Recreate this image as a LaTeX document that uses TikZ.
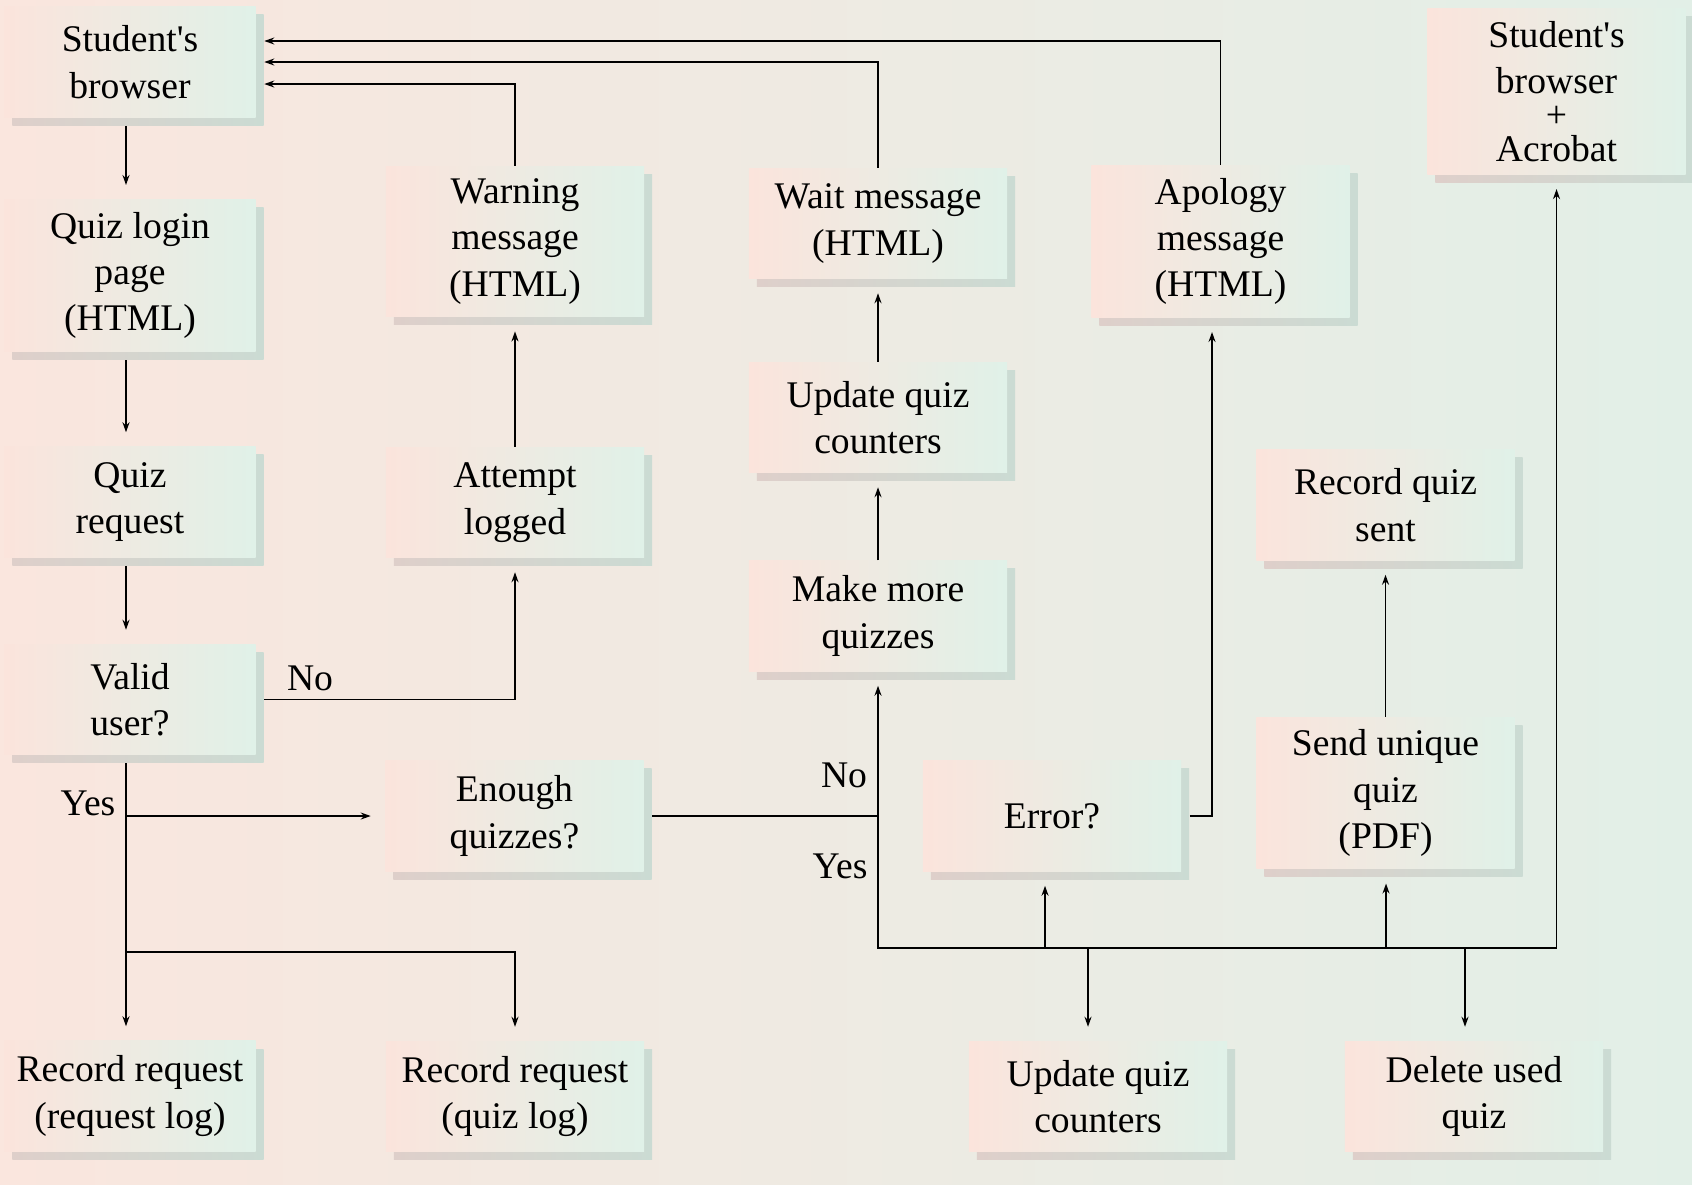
\documentclass[tikz,border=0pt]{standalone}
\usepackage{fontspec}
\setmainfont{Liberation Serif}
\usetikzlibrary{arrows.meta,shadows}
\definecolor{bgleft}{RGB}{250,230,222}
\definecolor{bgright}{RGB}{226,239,231}
\definecolor{boxleft}{RGB}{251,228,220}
\definecolor{boxright}{RGB}{224,241,232}
\definecolor{shadeleft}{RGB}{222,207,202}
\definecolor{shaderight}{RGB}{203,219,211}
\tikzstyle{box} = [minimum height=1.1cm, minimum width=2.58cm, text centered, align=center, inner xsep=0pt, inner ysep=3.5pt, left color=boxleft, right color=boxright, general shadow={shadow xshift=0.08cm, shadow yshift=-0.08cm, left color=shadeleft, right color=shaderight}, font=\fontsize{10.7}{13.2}\selectfont]
\tikzstyle{colbox} = [box, minimum width=2.51cm]
\tikzstyle{arr} = [-{Stealth[length=0.1cm, width=0.07cm]}, shorten >=0.14cm, line width=0.45pt]
\tikzstyle{lbl} = [font=\fontsize{10.7}{13.2}\selectfont]

\begin{document}
\begin{tikzpicture}[x=0.01cm, y=-0.01cm]
    \useasboundingbox (0,0) rectangle (1692,1184);
    \fill[left color=bgleft, right color=bgright] (0,0) rectangle (1692,1184);

    % left column
    \node[colbox] (sb) at (130,62) {Student\textquotesingle s\\browser};
    \node[colbox] (login) at (130,275.5) {Quiz login\\page\\(HTML)};
    \node[colbox] (request) at (130,502) {Quiz\\request};
    \node[colbox] (valid) at (130,699.5) {Valid\\user?};
    \node[colbox] (reqlog) at (130,1096) {Record request\\(request log)};

    % second column
    \node[box] (warning) at (515,241.5) {Warning\\message\\(HTML)};
    \node[box] (attempt) at (515,502.5) {Attempt\\logged};
    \node[box] (enough) at (514.5,816) {Enough\\quizzes?};
    \node[box] (quizlog) at (515,1096.5) {Record request\\(quiz log)};

    % quiz making
    \node[box] (wait) at (878,223.5) {Wait message\\(HTML)};
    \node[box] (counters) at (878,417.5) {Update quiz\\counters};
    \node[box] (make) at (878,616) {Make more\\quizzes};

    % sending
    \node[box] (error) at (1052,816) {Error?};
    \node[box] (apology) at (1220.5,241.5) {Apology\\message\\(HTML)};
    \node[box] (sent) at (1385.5,505) {Record quiz\\sent};
    \node[box] (send) at (1385.5,793) {Send unique\\quiz\\(PDF)};
    \node[box] (acrobat) at (1556.5,91.5) {Student\textquotesingle s\\browser\\[-3.5pt]+\\[-3.5pt]Acrobat};
    \node[box] (counters2) at (1098,1096.5) {Update quiz\\counters};
    \node[box] (delete) at (1474,1096.5) {Delete used\\quiz};

    \node[lbl] (no1) at (310,678) {No};
    \node[lbl] (yes1) at (88,803) {Yes};
    \node[lbl] (no2) at (844,775) {No};
    \node[lbl] (yes2) at (840,866) {Yes};

    \coordinate (colone) at (126,0);
    \coordinate (logfork) at (126,952);
    \coordinate (bus) at (0,948);
    \coordinate (apotap) at (1212,0);
    \coordinate (errtap) at (1045,948);
    \coordinate (sendtap) at (1386,948);
    \coordinate (updtap) at (1088,948);
    \coordinate (deltap) at (1465,948);
    \coordinate (junction) at (enough.east -| make.south);

    \draw[arr, shorten <=0.08cm] (sb.south -| colone) -- (login.north -| colone);
    \draw[arr, shorten <=0.08cm] (login.south -| colone) -- (request.north -| colone);
    \draw[arr, shorten <=0.08cm] (request.south -| colone) -- (valid.north -| colone);
    \draw[arr, shorten <=0.08cm] (valid.south -| colone) -- (reqlog.north -| colone);
    \draw[arr] (enough.west -| colone) -- (enough.west);
    \draw[arr] (logfork) -| (quizlog.north);
    \draw[arr, shorten <=0.08cm] (valid.east) -| (attempt.south);
    \draw[arr] (attempt.north) -- (warning.south);

    \draw[arr, shorten >=0.08cm] (warning.north) |- ([yshift=-0.22cm]sb.east);
    \draw[arr, shorten >=0.08cm] (wait.north) |- (sb.east);
    \draw[arr, shorten >=0.08cm] (apology.north) |- ([yshift=0.21cm]sb.east);

    \draw[arr] (counters.north) -- (wait.south);
    \draw[arr] (make.north) -- (counters.south);
    \draw[shorten <=0.08cm] (enough.east) -- (junction);
    \draw[arr] (junction) -- (make.south);
    \draw[arr] (junction) |- (bus -| acrobat.south) -- (acrobat.south);

    \draw[arr] (errtap) -- (errtap |- error.south);
    \draw[arr] (sendtap) -- (sendtap |- send.south);
    \draw[arr] (updtap) -- (updtap |- counters2.north);
    \draw[arr] (deltap) -- (deltap |- delete.north);
    \draw[arr, shorten <=0.08cm] (error.east) -| (apology.south -| apotap);
    \draw[arr] (send.north) -- (sent.south);
\end{tikzpicture}
\end{document}
